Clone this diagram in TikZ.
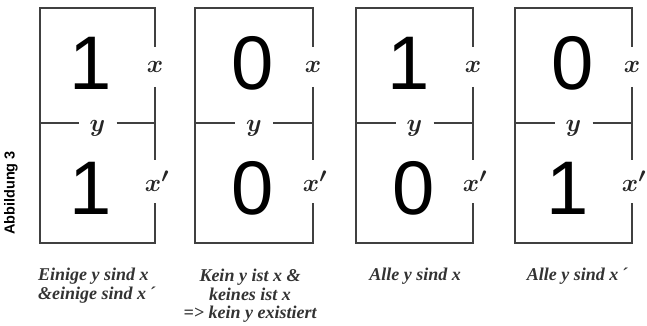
\documentclass[tikz,border=0pt]{standalone}
\usepackage{fontspec}
\setmainfont{Liberation Serif}
\newfontfamily\digitfont{Liberation Sans}
\begin{document}
\begin{tikzpicture}[x=1pt,y=-1pt,
  frame/.style={line width=1.8pt,draw=black!75,line cap=butt},
  digit/.style={font=\digitfont\fontsize{76}{76}\selectfont,inner sep=0pt,anchor=center},
  varlabel/.style={font=\fontsize{31}{31}\selectfont\boldmath,inner sep=0pt,anchor=center,text=black!85},
  caption/.style={font=\fontsize{18}{18.5}\selectfont\bfseries\itshape,text=black!80,align=center,anchor=north,inner sep=0pt}]
\useasboundingbox (0,0) rectangle (647,326);
% boxes: left, right
\foreach \L/\R/\top/\bot/\name/\ot/\ob in {40/155/1/1/a/-7/-7,195/313/0/0/b/-1/-1,356/473/1/0/c/-6/-1,515/632/0/1/d/-1/-6}{
  \pgfmathsetmacro{\C}{(\L+\R)/2}
  \draw[frame] (\R,47) -- (\R,8) -- (\L,8) -- (\L,243) -- (\R,243) -- (\R,203);
  \draw[frame] (\R,87) -- (\R,160);
  \draw[frame] (\L,123) -- (\C-19,123);
  \draw[frame] (\C+19,123) -- (\R,123);
  \node[digit] (\name top) at (\C+\ot,63) {\top};
  \node[digit] (\name bot) at (\C+\ob,188) {\bot};
  \node[varlabel] (\name x) at (\R,67) {$x$};
  \node[varlabel] (\name xp) at (\R+2,181) {$x'$};
  \node[varlabel] (\name y) at (\C,128) {$y$};
}
\node[rotate=90,font=\digitfont\bfseries\fontsize{14.5}{14.5}\selectfont,inner sep=0pt] (abb) at (11,193) {Abbildung 3};
\node[caption,align=left,anchor=north west] (capa) at (38,268) {Einige y sind x\\\&einige sind x\,\textasciiacute};
\node[caption] (capb) at (250,269) {Kein y ist x \&\\keines ist x\\=> kein y existiert};
\node[caption] (capc) at (415,268) {Alle y sind x};
\node[caption] (capd) at (577,268) {Alle y sind x\,\textasciiacute};
\end{tikzpicture}
\end{document}
